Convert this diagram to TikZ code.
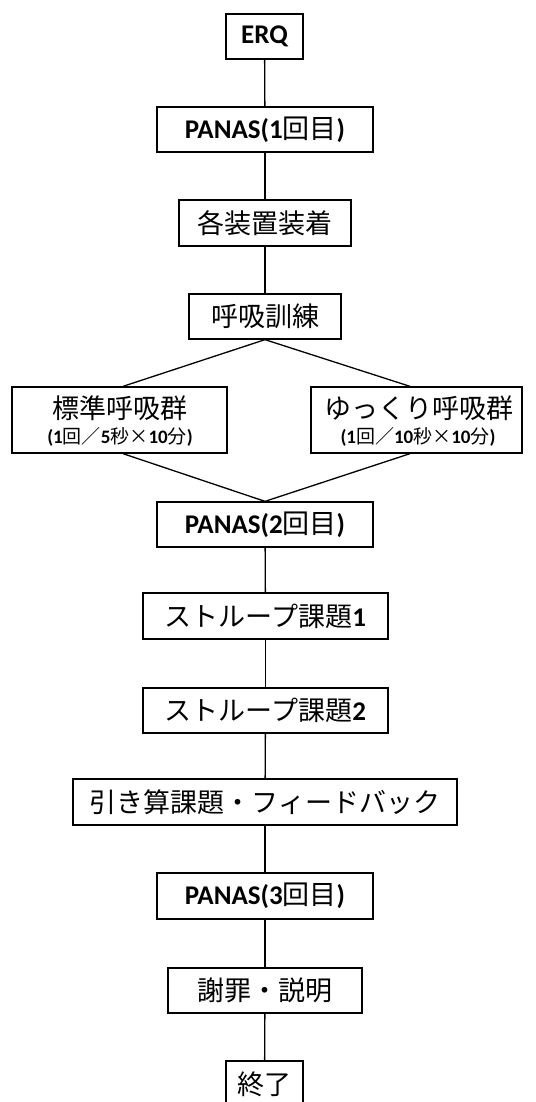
\documentclass[tikz,border=0pt]{standalone}
\usepackage{fontspec}
\setmainfont{Carlito}
\newfontfamily\jp{Noto Sans CJK JP}
\begin{document}
\begin{tikzpicture}[x=1pt,y=-1pt,
  box/.style={draw=black,line width=1.3pt,rectangle,inner sep=0pt,
    font=\fontsize{27}{30}\selectfont},
  conn/.style={draw=black,line width=1.3pt},
  small/.style={font=\fontsize{19}{21}\selectfont\bfseries}]
\useasboundingbox (0,0) rectangle (535,1102);
\fill[white] (0,0) rectangle (535,1102);
\node[box,minimum width=77pt,minimum height=45pt] (erq) at (264.5,36.5) {\bfseries ERQ};
\node[box,minimum width=216pt,minimum height=45pt] (p1) at (265,129.5) {\bfseries PANAS(1{\jp\mdseries 回目}){}};
\node[box,minimum width=172pt,minimum height=46pt] (dev) at (265,223) {\jp 各装置装着};
\node[box,minimum width=152pt,minimum height=45pt] (br) at (265,316.5) {\jp 呼吸訓練};
\node[box,minimum width=215pt,minimum height=66pt] (std) at (119.5,420) {};
\node[box,minimum width=211pt,minimum height=66pt] (slow) at (416.5,420) {};
\node (stdt) at (119.5,408) {\fontsize{27}{30}\selectfont\jp 標準呼吸群};
\node[small] (stds) at (120,437) {(1{\jp\mdseries 回／}5{\jp\mdseries 秒×}10{\jp\mdseries 分})};
\node (slowt) at (419,408) {\fontsize{27}{30}\selectfont\jp ゆっくり呼吸群};
\node[small] (slows) at (418,437) {(1{\jp\mdseries 回／}10{\jp\mdseries 秒×}10{\jp\mdseries 分})};
\node[box,minimum width=216pt,minimum height=45pt] (p2) at (265,524.5) {\bfseries PANAS(2{\jp\mdseries 回目}){}};
\node[box,minimum width=245pt,minimum height=46pt] (s1) at (265.5,616) {{\jp ストループ課題}\bfseries 1};
\node[box,minimum width=245pt,minimum height=45pt] (s2) at (265.5,710.5) {{\jp ストループ課題}\bfseries 2};
\node[box,minimum width=384pt,minimum height=46pt] (sub) at (265,802) {\jp 引き算課題・フィードバック};
\node[box,minimum width=216pt,minimum height=46pt] (p3) at (265,896) {\bfseries PANAS(3{\jp\mdseries 回目}){}};
\node[box,minimum width=194pt,minimum height=45pt] (apo) at (265,990.5) {\jp 謝罪・説明};
\node[box,minimum width=77pt,minimum height=46pt] (fin) at (264.5,1084) {\jp 終了};
\draw[conn] (erq) -- (p1);
\draw[conn] (p1) -- (dev);
\draw[conn] (dev) -- (br);
\draw[conn] (br.south) -- ([xshift=3.5pt]std.north);
\draw[conn] (br.south) -- ([xshift=-6.5pt]slow.north);
\draw[conn] ([xshift=3.5pt]std.south) -- (p2.north);
\draw[conn] ([xshift=-6.5pt]slow.south) -- (p2.north);
\draw[conn] (p2) -- (s1);
\draw[conn] (s1) -- (s2);
\draw[conn] (s2) -- (sub);
\draw[conn] (sub) -- (p3);
\draw[conn] (p3) -- (apo);
\draw[conn] (apo) -- (fin);
\end{tikzpicture}
\end{document}
